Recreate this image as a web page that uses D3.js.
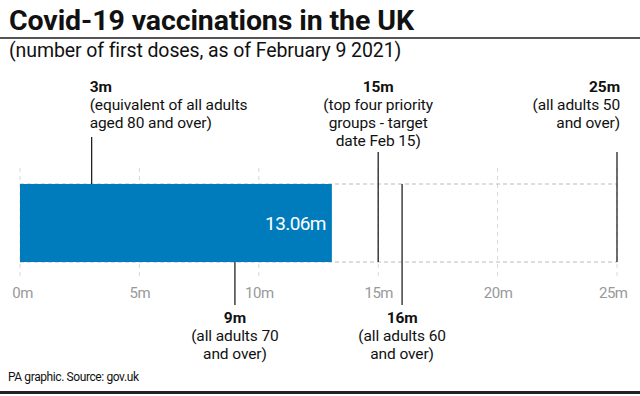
<!DOCTYPE html>
<html>
<head>
<meta charset="utf-8">
<script src="https://cdn.jsdelivr.net/npm/d3@7"></script>
<style>
body{margin:0;background:#fff;}
text{font-family:Roboto,"Open Sans",sans-serif;}
</style>
</head>
<body>
<script>
var width = 640, height = 396;
var ticks = [0, 5, 10, 15, 20, 25];
var doses = 13.06;
var doseLabel = "13.06m";
// annotations: value, side, heading, lines
var notes = [
  {v: 3, side: "top", head: "3m", lines: ["(equivalent of all adults", "aged 80 and over)"], anchor: "start"},
  {v: 15, side: "top", head: "15m", lines: ["(top four priority", "groups - target", "date Feb 15)"], anchor: "middle"},
  {v: 25, side: "top", head: "25m", lines: ["(all adults 50", "and over)"], anchor: "end"},
  {v: 9, side: "bottom", head: "9m", lines: ["(all adults 70", "and over)"], anchor: "middle"},
  {v: 16, side: "bottom", head: "16m", lines: ["(all adults 60", "and over)"], anchor: "middle"}
];

var svg = d3.select("body").append("svg")
  .attr("width", width).attr("height", height);

svg.append("text").attr("x", 9).attr("y", 30)
  .style("font-size", "28.5px").style("font-weight", "bold").style("letter-spacing", "-0.1px")
  .attr("fill", "#111").text("Covid-19 vaccinations in the UK");
svg.append("rect").attr("x", 0).attr("y", 37).attr("width", width).attr("height", 2).attr("fill", "#555");
svg.append("text").attr("x", 9).attr("y", 57)
  .style("font-size", "19.5px").style("letter-spacing", "-0.1px")
  .attr("fill", "#111").text("(number of first doses, as of February 9 2021)");

var x = d3.scaleLinear().domain([0, 25]).range([20, 617]);
var barTop = 184, barBot = 262;

// grid
svg.append("g").selectAll("line").data(ticks).join("line")
  .attr("x1", d => x(d)).attr("x2", d => x(d))
  .attr("y1", 168).attr("y2", 278)
  .attr("stroke", "#d8d8d8").attr("stroke-dasharray", "4,4");
svg.append("g").selectAll("line").data([barTop, barBot]).join("line")
  .attr("x1", x(0)).attr("x2", x(25))
  .attr("y1", d => d).attr("y2", d => d)
  .attr("stroke", "#bbb").attr("stroke-dasharray", "4,3");

svg.append("rect").attr("x", x(0)).attr("y", barTop)
  .attr("width", x(doses) - x(0)).attr("height", barBot - barTop)
  .attr("fill", "#007cbd");
svg.append("text").attr("x", x(doses) - 6).attr("y", 230)
  .attr("text-anchor", "end").attr("fill", "#fff")
  .style("font-size", "19px").style("letter-spacing", "-0.6px").text(doseLabel);

// axis
var axis = svg.append("g").attr("transform", "translate(0," + 278 + ")")
  .call(d3.axisBottom(x).tickValues(ticks).tickSize(0).tickFormat(d => d + "m"));
axis.select(".domain").remove();
axis.selectAll("text").attr("fill", "#999").attr("dy", "1.1em")
  .style("font-size", "15px").style("letter-spacing", "-0.5px")
  .attr("text-anchor", d => d == 25 ? "end" : "middle")
  .attr("dx", d => d == 25 ? 10 : (d == 0 ? 2 : 0));

// annotation lines
var lineY = {3: [137, barTop], 15: [152, barBot], 25: [152, barBot], 9: [barBot, 305], 16: [barTop, 305]};
svg.append("g").selectAll("line").data(notes).join("line")
  .attr("x1", d => x(d.v)).attr("x2", d => x(d.v))
  .attr("y1", d => lineY[d.v][0]).attr("y2", d => lineY[d.v][1])
  .attr("stroke", "#222").attr("stroke-width", 1.3);

var ng = svg.append("g").selectAll("text").data(notes).join("text")
  .attr("text-anchor", d => d.anchor)
  .attr("transform", function(d) {
    var tx = d.anchor == "start" ? x(d.v) - 2 : d.anchor == "end" ? x(d.v) + 3 : x(d.v);
    var ty = d.side == "top" ? 92 : 323;
    return "translate(" + tx + "," + ty + ")";
  })
  .style("font-size", "15.5px").style("letter-spacing", "-0.1px").attr("fill", "#111");
ng.append("tspan").attr("x", 0).attr("y", 0).style("font-weight", "bold").text(d => d.head);
ng.each(function(d) {
  var t = d3.select(this);
  d.lines.forEach(function(l, i) {
    t.append("tspan").attr("x", 0).attr("y", 18 * (i + 1)).text(l);
  });
});

svg.append("text").attr("x", 8).attr("y", 381)
  .style("font-size", "12px").style("letter-spacing", "-0.4px").attr("fill", "#111")
  .text("PA graphic. Source: gov.uk");
svg.append("rect").attr("x", 0).attr("y", 391).attr("width", width).attr("height", 3).attr("fill", "#222");
</script>
</body>
</html>
